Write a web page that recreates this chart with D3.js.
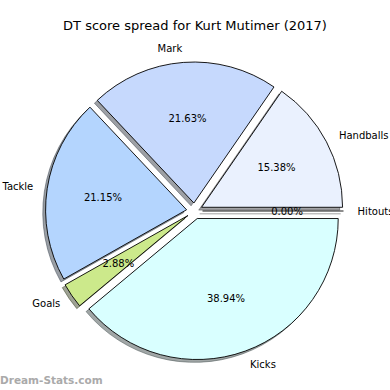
<!DOCTYPE html>
<html>
<head>
<meta charset="utf-8">
<script src="https://cdn.jsdelivr.net/npm/d3@7"></script>
<style>
  body { margin: 0; background: #fff; }
  text { font-family: "DejaVu Sans", sans-serif; fill: #000; }
</style>
</head>
<body>
<div id="main"></div>
<script>
// slice data, counter-clockwise from 3 o'clock (matplotlib order)
const categories = ['Handballs', 'Mark', 'Tackle', 'Goals', 'Kicks', 'Hitouts'];
const values = [32, 45, 44, 6, 81, 0];
const colors = ['#eaf1fe', '#c6d9fd', '#b4d5fe', '#cce98b', '#d9ffff', '#f0f0f0'];
const title = 'DT score spread for Kurt Mutimer (2017)';

const W = 390, H = 390,
      cx = 194.5, cy = 211,
      r = 141,
      explode = 8;

const svg = d3.select('#main')
    .append('svg')
    .attr('width', W)
    .attr('height', H);

const data = categories.map((c, i) => ({ name: c, value: values[i], color: colors[i] }));

// start at 3 o'clock, go counter-clockwise
const pie = d3.pie()
    .value(d => d.value)
    .sort(null)
    .startAngle(Math.PI / 2)
    .endAngle(Math.PI / 2 - 2 * Math.PI);

const arcs = pie(data);
const arc = d3.arc().innerRadius(0).outerRadius(r);

function wedgePath(d) {
    if (d.startAngle === d.endAngle) {
        const p = d3.pointRadial(d.startAngle, r);
        return 'M0,0L' + p[0] + ',' + p[1];
    }
    return arc(d);
}

function mid(d) { return (d.startAngle + d.endAngle) / 2; }

function shade(d) {
    const c = d3.rgb(d.data.color);
    return d3.rgb(c.r * 0.3, c.g * 0.3, c.b * 0.3);
}

const g = svg.append('g').attr('transform', 'translate(' + cx + ',' + cy + ')');

const slices = g.selectAll('g.slice')
    .data(arcs)
    .enter()
    .append('g')
    .attr('class', 'slice')
    .attr('transform', d => {
        const p = d3.pointRadial(mid(d), explode);
        return 'translate(' + p[0] + ',' + p[1] + ')';
    });

// shadow
slices.append('path')
    .attr('d', wedgePath)
    .attr('transform', 'translate(' + (-0.02 * r) + ',' + (0.02 * r) + ')')
    .attr('fill', shade)
    .attr('fill-opacity', 0.5)
    .attr('stroke', shade)
    .attr('stroke-opacity', 0.5)
    .attr('stroke-width', 1);

slices.append('path')
    .attr('d', wedgePath)
    .attr('fill', d => d.data.color)
    .attr('stroke', '#000')
    .attr('stroke-width', 0.9);

// category labels
slices.append('text')
    .text(d => d.data.name)
    .each(function(d) {
        const p = d3.pointRadial(mid(d), r * 1.1);
        const off = d3.pointRadial(mid(d), explode);
        d3.select(this)
            .attr('x', p[0])
            .attr('y', p[1])
            .attr('dy', '0.35em')
            .attr('text-anchor', (p[0] + off[0]) > 0 ? 'start' : 'end');
    })
    .style('font-size', '10px');

// percentages
const total = d3.sum(values);
slices.append('text')
    .text(d => (d.data.value / total * 100).toFixed(2) + '%')
    .attr('x', d => d3.pointRadial(mid(d), r * 0.6)[0])
    .attr('y', d => d3.pointRadial(mid(d), r * 0.6)[1])
    .attr('dy', '0.35em')
    .attr('text-anchor', 'middle')
    .style('font-size', '10px');

svg.append('text')
    .text(title)
    .attr('x', W / 2)
    .attr('y', 30)
    .attr('text-anchor', 'middle')
    .style('font-size', '13px');

svg.append('text')
    .text('Dream-Stats.com')
    .attr('x', 0)
    .attr('y', 384)
    .style('font-size', '10.5px')
    .style('font-weight', 'bold')
    .style('fill', '#aaaaaa');
</script>
</body>
</html>
